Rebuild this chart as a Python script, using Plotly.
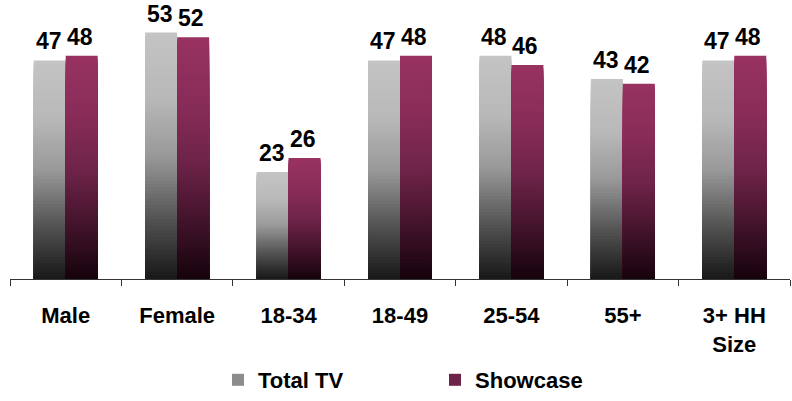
import plotly.graph_objects as go
import numpy as np

categories = ["Male", "Female", "18-34", "18-49", "25-54", "55+", "3+ HH<br>Size"]
total_tv = [47, 53, 23, 47, 48, 43, 47]
showcase = [48, 52, 26, 48, 46, 42, 48]
series_names = ["Total TV", "Showcase"]

FONT = "Liberation Sans, Arial, sans-serif"

# gradient stops: fraction from bottom -> rgb
gray_stops = [(0.0, (24, 24, 24)), (0.1, (48, 48, 48)), (0.25, (85, 85, 85)),
              (0.5, (153, 153, 153)), (0.73, (184, 184, 184)), (1.0, (196, 196, 196))]
maroon_stops = [(0.0, (22, 2, 12)), (0.1, (40, 10, 25)), (0.25, (68, 20, 44)),
                (0.5, (112, 36, 74)), (0.73, (136, 44, 88)), (1.0, (152, 50, 97))]


def interp(stops, f):
    for (f0, c0), (f1, c1) in zip(stops[:-1], stops[1:]):
        if f <= f1:
            t = (f - f0) / (f1 - f0) if f1 > f0 else 0
            c = [round(a + (b - a) * t) for a, b in zip(c0, c1)]
            return "rgb(%d,%d,%d)" % tuple(c)
    return "rgb(%d,%d,%d)" % stops[-1][1]


N = 70
fig = go.Figure()
for name, vals, stops, off, lg_color in [
    (series_names[0], total_tv, gray_stops, -0.287, "#8c8c8c"),
    (series_names[1], showcase, maroon_stops, 0.0, "#6e2448"),
]:
    v = np.array(vals, dtype=float)
    # draw tallest (lightest) first, shorter darker slices overlay on top
    for k in range(N, 0, -1):
        f = (k - 0.5) / N
        fig.add_trace(go.Bar(
            x=categories, y=v * k / N, width=0.287, offset=off,
            marker=dict(color=interp(stops, f), line=dict(width=0)),
            showlegend=False, hoverinfo="skip", legendgroup=name,
        ))
    # legend entry
    fig.add_trace(go.Bar(
        x=categories, y=[None] * len(categories), name=name,
        marker=dict(color=lg_color, line=dict(width=0)),
        showlegend=True, legendgroup=name, width=0.287, offset=off,
    ))
    for c, val in zip(categories, vals):
        fig.add_annotation(
            x=c, y=val, xref="x", yref="y", text=str(val), showarrow=False,
            xshift=-17 if off < 0 else 14, yshift=4, yanchor="bottom",
            font=dict(family=FONT, size=23, color="#000", weight="bold"),
        )

fig.update_layout(
    width=792, height=401,
    margin=dict(l=10, r=2, t=0, b=118),
    barmode="overlay",
    plot_bgcolor="white", paper_bgcolor="white",
    font=dict(family=FONT, color="#000"),
    xaxis=dict(
        type="category", showline=True, linecolor="#333", linewidth=1,
        ticks="outside", tickson="boundaries", ticklen=6, tickcolor="#333",
        tickfont=dict(family=FONT, size=22, color="#000", weight="bold"),
        ticklabelstandoff=17, showgrid=False, zeroline=False,
    ),
    yaxis=dict(range=[0, 60], visible=False, showgrid=False, zeroline=False),
    legend=dict(
        orientation="h", x=0.2667, xanchor="left", y=-0.364, yanchor="middle",
        font=dict(family=FONT, size=22, color="#000", weight="bold"),
        entrywidth=172, entrywidthmode="pixels", traceorder="normal",
    ),
)

fig.write_html("out.html")
